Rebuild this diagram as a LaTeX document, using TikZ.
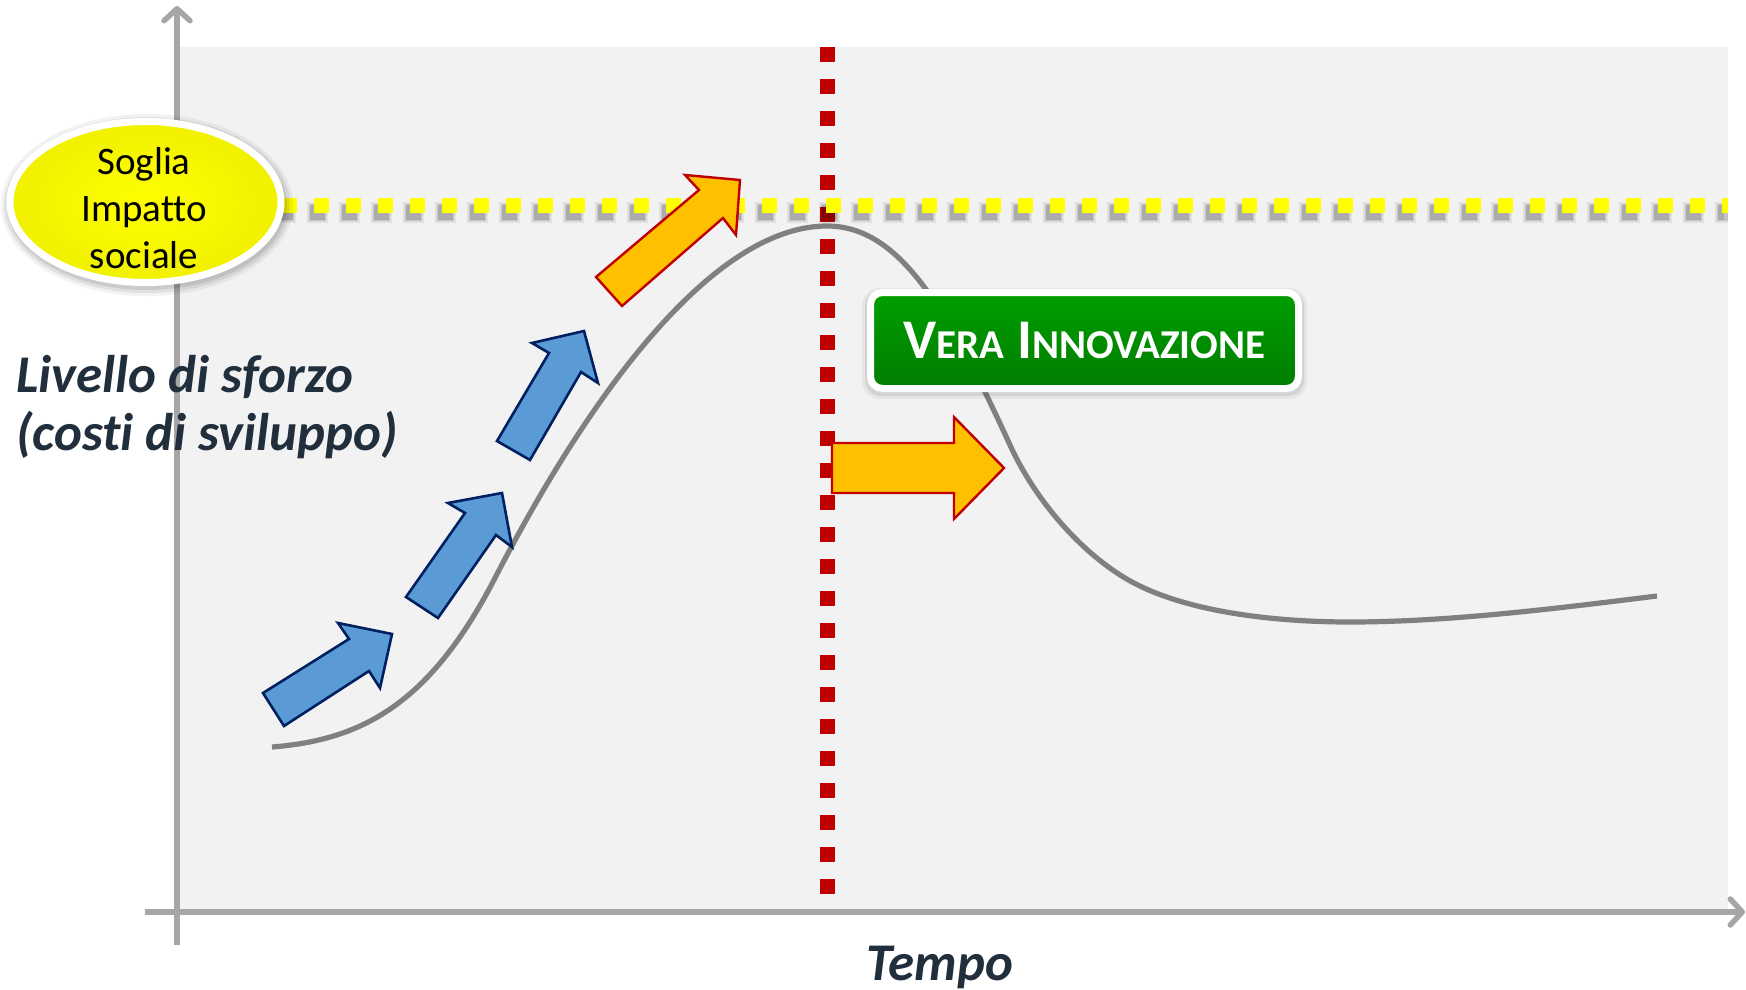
\documentclass[tikz,border=0pt]{standalone}
\usepackage{fontspec}
\setmainfont{Carlito}[Ligatures=NoCommon]
\usetikzlibrary{arrows.meta,shapes.geometric,shadows}
\definecolor{panel}{RGB}{242,242,242}
\definecolor{axisgray}{RGB}{166,166,166}
\definecolor{curvegray}{RGB}{128,128,128}
\definecolor{bluefill}{RGB}{91,155,213}
\definecolor{blueline}{RGB}{0,32,96}
\definecolor{orangefill}{RGB}{255,192,0}
\definecolor{redline}{RGB}{192,0,0}
\definecolor{labeltext}{RGB}{33,46,60}
\definecolor{greenA}{RGB}{0,158,0}
\definecolor{greenB}{RGB}{0,125,0}
\definecolor{yellowA}{RGB}{255,255,0}
\definecolor{yellowB}{RGB}{240,240,0}
\begin{document}
\begin{tikzpicture}[x=1pt,y=-1pt,
  axisline/.style={draw=axisgray, line width=5.5pt, -{Straight Barb[length=12pt,width=26pt,round]}},
  bluearrow/.style={fill=bluefill, draw=blueline, line width=2.6pt, line join=miter},
  orangearrow/.style={fill=orangefill, draw=redline, line width=2.4pt, line join=miter},
  dotline/.style={line width=15pt, dash pattern=on 15pt off 17pt},
  axislabel/.style={font=\fontsize{53}{57}\selectfont\bfseries\itshape, text=labeltext, inner sep=0pt},
  elltext/.style={font=\fontsize{39}{47}\selectfont, text=black, inner sep=0pt},
  softshadow/.style={fill=black, opacity=#1},
]
\useasboundingbox (0,0) rectangle (1746,990);
\fill[white] (0,0) rectangle (1746,990);
% panel
\fill[panel] (179,47) rectangle (1728,912);
% axes
\coordinate (yb) at (177,945);
\coordinate (yt) at (177,6);
\coordinate (xl) at (145,912);
\coordinate (xr) at (1745,912);
\draw[axisline] (yb) -- (yt);
\draw[axisline] (xl) -- (xr);
% curve
\draw[curvegray, line width=5.2pt]
  (272,747) .. controls (362,740) and (430,704) .. (495,578)
            .. controls (595,384) and (717,226) .. (827,226)
            .. controls (900,226) and (948,310) .. (1010,445)
            .. controls (1035,500) and (1080,551) .. (1125,578)
            .. controls (1180,611) and (1270,622) .. (1350,622)
            .. controls (1450,622) and (1560,608) .. (1657,596);
% red dotted line
\coordinate (rt) at (827,47);
\coordinate (rb) at (827,894);
\draw[dotline, draw=redline] (rt) -- (rb);
% yellow dotted line with shadow
\draw[line width=21pt, dash pattern=on 21pt off 11pt, draw=black, opacity=.07] (275,212) -- (1728,212);
\draw[line width=17pt, dash pattern=on 17pt off 15pt, draw=black, opacity=.12] (277,212) -- (1728,212);
\draw[dotline, draw=black, opacity=.12] (278,212) -- (1724,212);
\coordinate (yl) at (282,205);
\coordinate (yr) at (1728,205);
\draw[dotline, draw=yellowA] (yl) -- (yr);
% blue arrows
\draw[bluearrow] (263,693) -- (349,639) -- (338,623) -- (392,634) -- (380,688) -- (369,671) -- (284,726) -- cycle;
\draw[bluearrow] (406,597) -- (465,513) -- (448,503) -- (502,493) -- (512,547) -- (496,535) -- (438,618) -- cycle;
\draw[bluearrow] (497,441) -- (549,353) -- (532,343) -- (584,331) -- (598,383) -- (581,372) -- (530,460) -- cycle;
% orange arrows
\draw[orangearrow] (596,277) -- (699,190) -- (685,175) -- (740,180) -- (736,235) -- (723,218) -- (622,306) -- cycle;
\draw[orangearrow] (832,443) -- (954,443) -- (954,417) -- (1004,468) -- (954,519) -- (954,493) -- (832,493) -- cycle;
% threshold ellipse with soft shadow
\fill[softshadow=.05] (147,205) ellipse [x radius=146, y radius=91];
\fill[softshadow=.07] (147,205) ellipse [x radius=143, y radius=88];
\fill[softshadow=.09] (147,205) ellipse [x radius=140, y radius=85];
\node[ellipse, minimum width=271pt, minimum height=161pt, inner sep=0pt, draw=white, line width=7pt,
      inner color=yellowA, outer color=yellowB] (soglia) at (145.5,202) {};
\node[elltext, anchor=base] (s1) at (144,174) {Soglia};
\node[elltext, anchor=base] (s2) at (144,221) {Impatto};
\node[elltext, anchor=base] (s3) at (144,268) {sociale};
% green box with soft shadow
\fill[softshadow=.05, rounded corners=18pt] (862,288) rectangle (1307,399);
\fill[softshadow=.08, rounded corners=16pt] (865,290) rectangle (1304,396);
\node[rectangle, rounded corners=12pt, draw=white, line width=7pt, top color=greenA, bottom color=greenB,
      minimum width=428pt, minimum height=96pt, inner sep=0pt,
      text=white, font=\fontsize{56}{56}\selectfont\bfseries] (vera) at (1084.5,340.5)
  {V{\fontsize{41}{41}\selectfont ERA} I{\fontsize{41}{41}\selectfont NNOVAZIONE}};
% labels
\node[axislabel, anchor=base west] (liv1) at (16,392) {Livello di sforzo};
\node[axislabel, anchor=base west] (liv2) at (16,450) {(costi di sviluppo)};
\node[axislabel, anchor=base] (tempo) at (940,980) {Tempo};
\end{tikzpicture}
\end{document}
